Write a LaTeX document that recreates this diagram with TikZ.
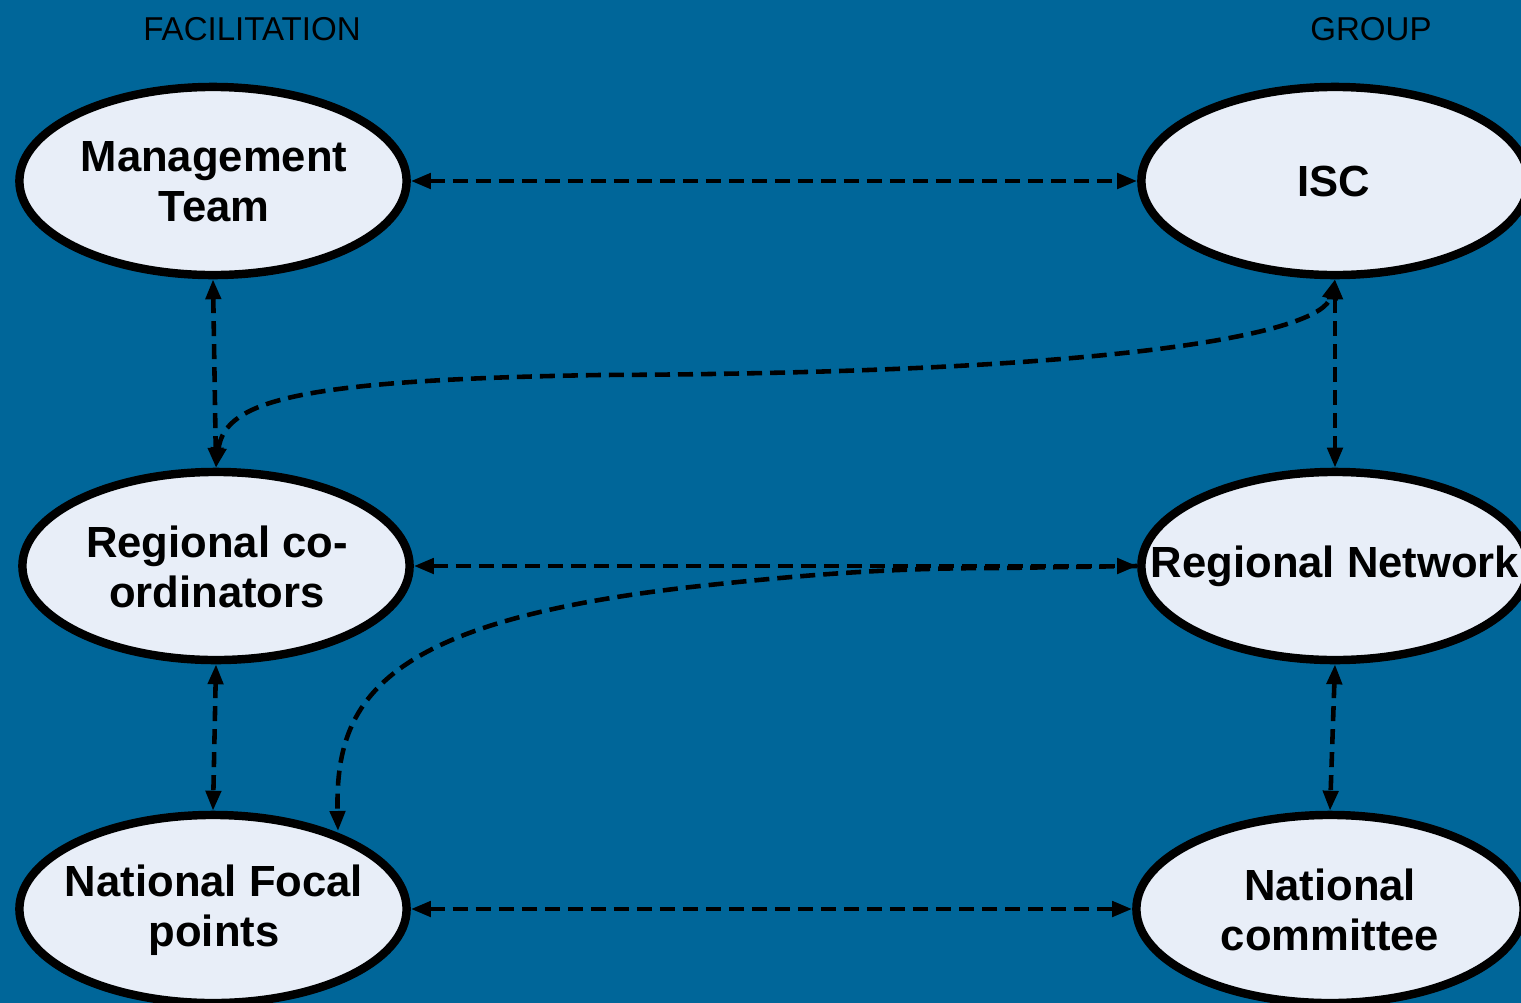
\documentclass[tikz,border=0pt]{standalone}
\usepackage{fontspec}
\setmainfont{Liberation Sans}
\usetikzlibrary{shapes.geometric,arrows.meta}
\definecolor{bgblue}{RGB}{0,102,153}
\definecolor{ellfill}{RGB}{232,238,248}
\tikzset{
  box/.style={ellipse, draw=black, line width=2.4pt, fill=ellfill,
    minimum width=3.87cm, minimum height=1.88cm, inner sep=0pt},
  lbl/.style={font=\bfseries\fontsize{12.4}{14.2}\selectfont, align=center, text=black},
  hdr/.style={font=\fontsize{9.4}{11}\selectfont, text=black},
  conn/.style={line width=1.3pt, dash pattern=on 0.15cm off 0.08cm,
    {Triangle[length=0.2cm,width=0.15cm]}-{Triangle[length=0.2cm,width=0.15cm]}},
  conn1/.style={line width=1.3pt, dash pattern=on 0.15cm off 0.08cm,
    -{Triangle[length=0.2cm,width=0.15cm]}}
}
\begin{document}
\begin{tikzpicture}[x=0.01cm,y=-0.01cm]
\useasboundingbox (0,0) rectangle (1521,1003);
\clip (0,0) rectangle (1521,1003);
\fill[bgblue] (0,0) rectangle (1521,1003);
\node[hdr] (hf) at (252,29) {FACILITATION};
\node[hdr] (hg) at (1371,29) {GROUP};
\node[box] (mt) at (213,181) {};
\node[box] (isc) at (1335,181) {};
\node[box] (rc) at (216,566) {};
\node[box] (rn) at (1335,566) {};
\node[box] (nfp) at (213,909) {};
\node[box] (nc) at (1330,909) {};
\node[lbl] (tmt) at (214,182) {Management\\Team};
\node[lbl] (tisc) at (1334,181) {ISC};
\node[lbl] (trc) at (217,567) {Regional co-\\ordinators};
\node[lbl] (trn) at (1335,566) {Regional Network};
\node[lbl] (tnfp) at (214,910) {National Focal\\points};
\node[lbl] (tnc) at (1330,910) {National\\committee};
\draw[conn] (mt.east) -- (isc.west);
\draw[conn] (mt.south) -- (rc.north);
\draw[conn] (isc.south) -- (rn.north);
\draw[conn] (rc.north) .. controls (225,400) and (300,380) .. (600,375)
  .. controls (1150,373) and (1322,330) .. (isc.south);
\draw[conn] (rc.east) -- (rn.west);
\coordinate (nfpt) at (338,831);
\draw[conn1] (rn.west) -- (1000,568) .. controls (900,568) and (820,573) .. (700,586)
  .. controls (380,621) and (335,700) .. (nfpt);
\draw[conn] (rn.south) -- (nc.north);
\draw[conn] (rc.south) -- (nfp.north);
\draw[conn] (nfp.east) -- (nc.west);
\end{tikzpicture}
\end{document}
